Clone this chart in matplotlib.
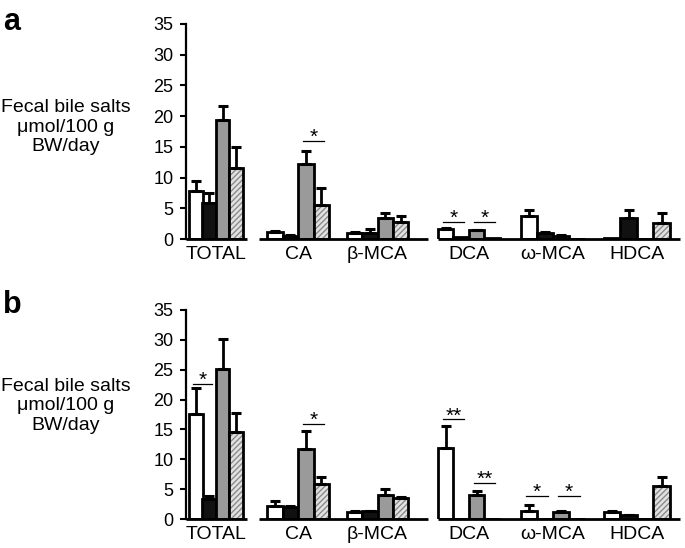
import numpy as np
import matplotlib
matplotlib.use('Agg')
import matplotlib.pyplot as plt

plt.rcParams['font.family'] = ['Liberation Sans', 'DejaVu Sans']

# Bile salt species (x categories)
categories = ['TOTAL', 'CA', 'β-MCA', 'DCA', 'ω-MCA', 'HDCA']

# Panel a: means and upper error per group (white, black, gray, hatched)
a_white = [7.8, 1.1, 1.0, 1.7, 3.8, 0.15]
a_white_err = [1.6, 0.2, 0.2, 0.1, 1.0, 0.0]
a_black = [5.9, 0.55, 0.9, 0.3, 1.0, 3.4]
a_black_err = [1.6, 0.1, 0.7, 0.0, 0.1, 1.4]
a_gray = [19.3, 12.2, 3.5, 1.4, 0.5, 0.0]
a_gray_err = [2.4, 2.2, 0.8, 0.1, 0.1, 0.0]
a_hatch = [11.5, 5.5, 2.7, 0.1, 0.0, 2.6]
a_hatch_err = [3.5, 2.8, 1.1, 0.0, 0.0, 1.6]

# Panel b
b_white = [17.6, 2.2, 1.1, 11.9, 1.3, 1.2]
b_white_err = [4.3, 0.8, 0.3, 3.6, 1.0, 0.2]
b_black = [3.3, 2.0, 1.3, 0.0, 0.05, 0.6]
b_black_err = [0.6, 0.1, 0.1, 0.0, 0.0, 0.1]
b_gray = [25.2, 11.7, 4.0, 4.0, 1.1, 0.0]
b_gray_err = [4.9, 3.0, 1.0, 0.7, 0.2, 0.0]
b_hatch = [14.5, 5.9, 3.5, 0.0, 0.0, 5.5]
b_hatch_err = [3.2, 1.2, 0.2, 0.0, 0.0, 1.6]

# Significance marks: (category, bar i, bar j, height, label)
a_sig = [(1, 2, 3, 16.0, '*'), (3, 0, 1, 2.8, '*'), (3, 2, 3, 2.8, '*')]
b_sig = [(0, 0, 1, 22.6, '*'), (1, 2, 3, 15.9, '*'), (3, 0, 1, 16.7, '**'),
         (3, 2, 3, 6.1, '**'), (4, 0, 1, 3.85, '*'), (4, 2, 3, 3.85, '*')]

# layout (x in axis units ~ pixels)
group_left = [189, 267, 347, 438, 521, 604]
bar_w = [13.5, 15.5, 15.3, 15.5, 16, 16.5]
segments = [(186, 247), (259, 428), (438, 680)]
fontsize = 13

fig = plt.figure(figsize=(6.85, 5.48), dpi=100)


def draw_panel(ax, series, errs, sigs):
    face = ['white', '#111111', '#9a9a9a', None]
    for k in range(4):
        x = np.array(group_left) + k * np.array(bar_w)
        if face[k] is None:
            ax.bar(x, series[k], width=bar_w, align='edge', color='#e2e2e2',
                   hatch='//////', edgecolor='#8a8a8a', linewidth=0)
            ax.bar(x, series[k], width=bar_w, align='edge', fill=False,
                   edgecolor='black', linewidth=2)
        else:
            ax.bar(x, series[k], width=bar_w, align='edge', color=face[k],
                   edgecolor='black', linewidth=2)
        xc = x + np.array(bar_w) / 2
        e = np.array(errs[k])
        m = e > 0
        ax.errorbar(xc[m], np.array(series[k])[m],
                    yerr=[np.zeros(m.sum()), e[m]], fmt='none', ecolor='black',
                    elinewidth=2, capsize=3.5, capthick=2.2)
    for g, i, j, h, lab in sigs:
        x1 = group_left[g] + (i + 0.5) * bar_w[g] - 3
        x2 = group_left[g] + (j + 0.5) * bar_w[g] + 3
        ax.plot([x1, x2], [h, h], color='black', lw=0.9)
        ax.annotate(lab, ((x1 + x2) / 2, h), xytext=(0, -1.5),
                    textcoords='offset points', ha='center', va='baseline',
                    fontsize=15)
    for x0, x1 in segments:
        ax.plot([x0, x1], [0, 0], color='black', lw=2, clip_on=False,
                solid_capstyle='butt')
    for g, name in enumerate(categories):
        xc = group_left[g] + 2 * bar_w[g]
        ax.annotate(name, (xc, 0), xytext=(0, -5), textcoords='offset points',
                    ha='center', va='top', fontsize=14)
    ax.set_xlim(186, 680)
    ax.set_ylim(0, 35)
    ax.set_yticks(range(0, 36, 5))
    ax.set_xticks([])
    for s in ['top', 'right', 'bottom']:
        ax.spines[s].set_visible(False)
    ax.spines['left'].set_linewidth(1.6)
    ax.tick_params(axis='y', labelsize=fontsize, width=1.5, length=4, pad=5)


ax_a = fig.add_axes([186 / 685, 1 - 239 / 548, 494 / 685, 215 / 548])
draw_panel(ax_a, [a_white, a_black, a_gray, a_hatch],
           [a_white_err, a_black_err, a_gray_err, a_hatch_err], a_sig)
ax_b = fig.add_axes([186 / 685, 1 - 519 / 548, 494 / 685, 209 / 548])
draw_panel(ax_b, [b_white, b_black, b_gray, b_hatch],
           [b_white_err, b_black_err, b_gray_err, b_hatch_err], b_sig)

ylab = 'Fecal bile salts\nμmol/100 g\nBW/day'
fig.text(66 / 685, 1 - 127 / 548, ylab, ha='center', va='center',
         fontsize=14, linespacing=1.2)
fig.text(66 / 685, 1 - 406 / 548, ylab, ha='center', va='center',
         fontsize=14, linespacing=1.2)
fig.text(3 / 685, 1 - 30 / 548, 'a', fontsize=22, fontweight='bold',
         va='baseline')
fig.text(3 / 685, 1 - 313 / 548, 'b', fontsize=22, fontweight='bold',
         va='baseline')

plt.savefig('out.png', dpi=100)
